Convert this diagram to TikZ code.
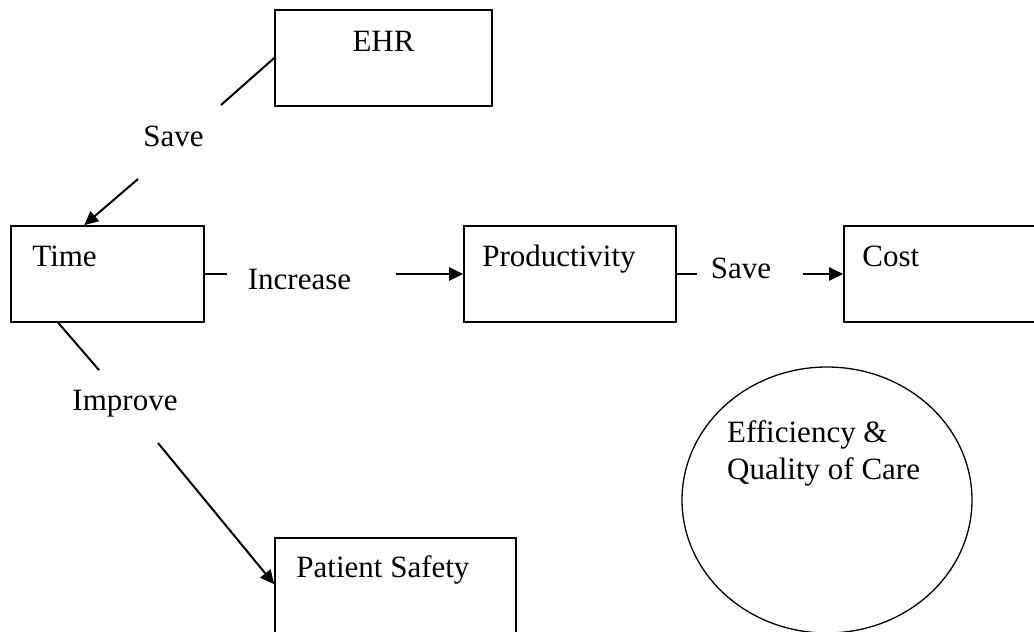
\documentclass[tikz,border=0pt]{standalone}
\usepackage{fontspec}
\setmainfont{Liberation Serif}
\usepackage{tikz}
\usetikzlibrary{positioning}
\usetikzlibrary{shapes.geometric}
\usetikzlibrary{arrows.meta}
\tikzset{box/.style={draw, line width=1.6pt, rectangle, inner sep=0pt}}
\tikzset{txt/.style={inner sep=0pt, font=\fontsize{31}{37}\selectfont}}
\tikzset{link/.style={line width=2pt}}
\tikzset{arr/.style={line width=2pt, -{Triangle[length=14pt,width=13pt]}}}

\begin{document}
\begin{tikzpicture}[x=1pt,y=-1pt]
\useasboundingbox (0,0) rectangle (1034,632);
% boxes
\node[box, minimum width=217, minimum height=96] (ehr) at (383.5,58) {};
\node[box, minimum width=193, minimum height=96] (time) at (107.5,274) {};
\node[box, minimum width=212, minimum height=96] (prod) at (570,274) {};
\node[box, minimum width=220, minimum height=96] (cost) at (954,274) {};
\node[box, minimum width=241, minimum height=100] (safety) at (395.5,588) {};
\node[draw, ellipse, line width=1.3pt, minimum width=290, minimum height=266] (eqc) at (827,500) {};
% box texts
\node[txt, anchor=base] (ehrtxt) at ([yshift=-42pt]ehr.north) {EHR};
\node[txt, anchor=base west] (timetxt) at ([xshift=22pt,yshift=-41pt]time.north west) {Time};
\node[txt, anchor=base west] (prodtxt) at ([xshift=19pt,yshift=-41pt]prod.north west) {Productivity};
\node[txt, anchor=base west] (costtxt) at ([xshift=19pt,yshift=-41pt]cost.north west) {Cost};
\node[txt, anchor=base west] (safetytxt) at ([xshift=22pt,yshift=-40pt]safety.north west) {Patient Safety};
\node[txt, anchor=base west, align=left] (eqctxt) at (727,479) {Efficiency \&\\Quality of Care};
% labels
\node[txt, anchor=base] (save1) at (173.5,146) {Save};
\node[txt, anchor=base] (incr) at (299.5,289) {Increase};
\node[txt, anchor=base] (save2) at (741,278) {Save};
\node[txt, anchor=base] (impr) at (125,410) {Improve};
% free ends
\coordinate (s1a) at (221,105);
\coordinate (s1b) at (138,179);
\coordinate (in1) at (227,274);
\coordinate (in2) at (396,274);
\coordinate (s2a) at (697,274);
\coordinate (s2b) at (803,274);
\coordinate (im1) at (99,370);
\coordinate (im2) at (158,443);
% connectors
\draw[link] (ehr.west) -- (s1a);
\draw[arr] (s1b) -- ([xshift=74pt]time.north west);
\draw[link] (time.east) -- (in1);
\draw[arr] (in2) -- (prod.west);
\draw[link] (prod.east) -- (s2a);
\draw[arr] (s2b) -- (cost.west);
\draw[link] ([xshift=48pt]time.south west) -- (im1);
\draw[arr] (im2) -- ([yshift=-47pt]safety.north west);
\end{tikzpicture}
\end{document}
